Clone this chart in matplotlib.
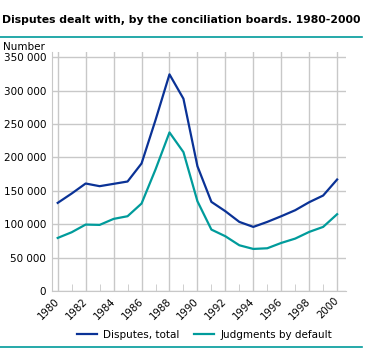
import matplotlib
matplotlib.use("Agg")
import matplotlib.pyplot as plt
from matplotlib.lines import Line2D
from matplotlib.ticker import FuncFormatter, MultipleLocator

years = list(range(1980, 2001))
disputes_total = [132000, 146000, 161000, 157000, 160500, 164000, 191000, 256000,
                  324500, 288000, 187000, 133500, 119500, 103500, 96000, 103500,
                  112000, 121000, 133000, 143000, 167000]
judgments_default = [79500, 88000, 99500, 99000, 108000, 112000, 131000, 182000,
                     237500, 208000, 134500, 92000, 82000, 68500, 63000, 64000,
                     72000, 78500, 88500, 96000, 115000]
x_labels = [str(y) for y in range(1980, 2001, 2)]

blue = "#0a3296"
teal = "#009b9b"
grid = "#c8c8c8"

plt.rcParams['font.family'] = ['DejaVu Sans']

fig = plt.figure(figsize=(3.68, 3.48), dpi=100)
ax = fig.add_axes([0.1405, 0.1638, 0.7995, 0.6868])

ax.plot(years, disputes_total, color=blue, lw=1.6, label="Disputes, total", zorder=3)
ax.plot(years, judgments_default, color=teal, lw=1.6, label="Judgments by default", zorder=3)

ax.set_xlim(1979.57, 2000.63)
ax.set_ylim(0, 358000)
ax.set_xticks(range(1980, 2001, 2))
ax.set_xticklabels(x_labels, rotation=45, ha="right", va="center",
                   rotation_mode="anchor", fontsize=7.3)
ax.xaxis.set_minor_locator(MultipleLocator(1))
ax.set_yticks(range(0, 350001, 50000))
ax.yaxis.set_major_formatter(FuncFormatter(lambda v, p: f"{int(v):,}".replace(",", " ")))
ax.tick_params(axis="y", labelsize=7.5, length=0, pad=4)
ax.tick_params(axis="x", which="major", length=0, pad=6)
ax.tick_params(axis="x", which="minor", direction="in", length=5, color=grid)
ax.grid(True, color=grid, lw=1)
ax.set_axisbelow(True)
for side in ["top", "right"]:
    ax.spines[side].set_visible(False)
for side in ["left", "bottom"]:
    ax.spines[side].set_color(grid)

fig.text(0.006, 0.935, "Disputes dealt with, by the conciliation boards. 1980-2000",
         fontsize=7.85, fontweight="bold", ha="left", va="baseline")
fig.add_artist(Line2D([0, 0.984], [0.893, 0.893], color=teal, lw=1.2))
fig.add_artist(Line2D([0, 0.984], [0.004, 0.004], color=teal, lw=1.2))
fig.text(0.008, 0.856, "Number", fontsize=7.5, ha="left", va="baseline")

fig.legend(loc="center", bbox_to_anchor=(0.556, 0.038), ncol=2, frameon=False,
           fontsize=7.5, handlelength=1.9, columnspacing=1.45, handletextpad=0.6)

fig.savefig("out.png", dpi=100)
